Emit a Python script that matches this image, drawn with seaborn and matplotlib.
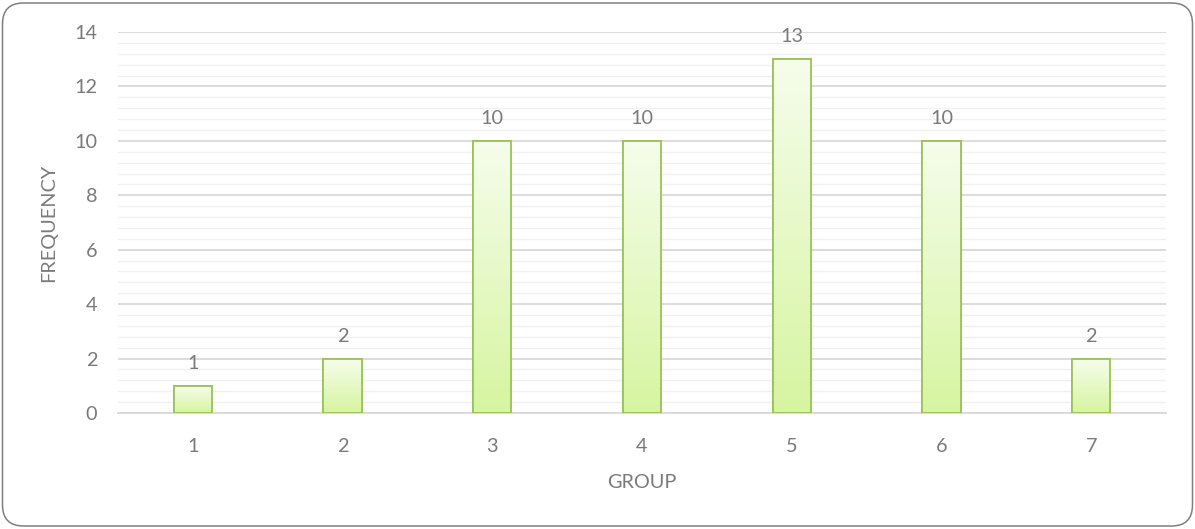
import numpy as np
import pandas as pd
import matplotlib
matplotlib.use("Agg")
import matplotlib.pyplot as plt
import seaborn as sns
from matplotlib.patches import FancyBboxPatch
from matplotlib.colors import LinearSegmentedColormap

groups = ["1", "2", "3", "4", "5", "6", "7"]
frequency = [1, 2, 10, 10, 13, 10, 2]
yticks = [0, 2, 4, 6, 8, 10, 12, 14]

sns.set_theme(style="white")
plt.rcParams['font.family'] = ['Lato', 'DejaVu Sans']
txt = "#7a7a7a"
fs = 14.3

fig = plt.figure(figsize=(11.95, 5.29), dpi=100)
ax = fig.add_axes([118/1195, 1-413/529, (1166-118)/1195, (413-32)/529])

df = pd.DataFrame({"group": groups, "freq": frequency})
sns.barplot(data=df, x="group", y="freq", ax=ax, width=0.255,
            color="#e8f8cc", edgecolor="#9bc25a", linewidth=1.3, saturation=1, zorder=3)

ax.set_ylim(0, 14)
ax.set_xlim(-0.5, 6.5)
ax.set_yticks(yticks)
ax.set_yticks(np.arange(0, 14.01, 0.4), minor=True)
ax.grid(True, which="major", axis="y", color="#d9d9d9", linewidth=1.3, zorder=0)
ax.grid(True, which="minor", axis="y", color="#f0f0f0", linewidth=1.0, zorder=0)
ax.set_axisbelow(True)
for s in ["top", "right", "left"]:
    ax.spines[s].set_visible(False)
ax.spines["bottom"].set_color("#d9d9d9")
ax.spines["bottom"].set_linewidth(1.3)
ax.tick_params(axis="both", which="both", length=0, labelsize=fs, colors=txt)
ax.tick_params(axis="y", pad=15)
ax.tick_params(axis="x", pad=18)

# gradient fill
cmap = LinearSegmentedColormap.from_list("g", ["#d6f5a0", "#f6fdec"])
grad = np.linspace(0, 1, 256).reshape(-1, 1)
for p in ax.patches:
    x0, y0 = p.get_x(), p.get_y()
    w, h = p.get_width(), p.get_height()
    im = ax.imshow(grad, extent=[x0, x0 + w, y0, y0 + h], origin="lower",
                   cmap=cmap, aspect="auto", zorder=3.5)
    im.set_clip_path(p)
    ax.add_patch(plt.Rectangle((x0, y0), w, h, fill=False, edgecolor="#9bc25a",
                               linewidth=1.3, zorder=4))
ax.set_xlim(-0.5, 6.5)
ax.set_ylim(0, 14)

for i, v in enumerate(frequency):
    ax.annotate(str(v), (i, v), xytext=(0, 10), textcoords="offset points",
                ha="center", va="bottom", fontsize=fs, color=txt)

ax.set_xlabel("GROUP", fontsize=fs, color=txt, labelpad=14)
ax.set_ylabel("FREQUENCY", fontsize=fs, color=txt, labelpad=12)

border = FancyBboxPatch((0.025, 0.03), 11.9, 5.23,
                        boxstyle="round,pad=0,rounding_size=0.21",
                        transform=fig.dpi_scale_trans, fill=False,
                        edgecolor="#7f7f7f", linewidth=1.1)
fig.patches.append(border)

fig.savefig("out.png", dpi=100)
